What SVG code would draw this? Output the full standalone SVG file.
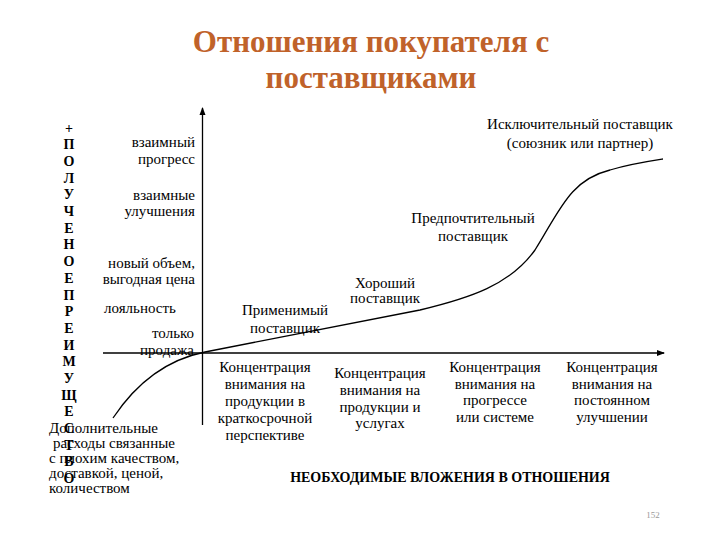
<svg xmlns="http://www.w3.org/2000/svg" width="720" height="540" viewBox="0 0 720 540">
<defs>
<marker id="arr" markerWidth="8" markerHeight="8" refX="7" refY="4" orient="auto" markerUnits="userSpaceOnUse"><path d="M0,1 L8,4 L0,7 Z" fill="#000"/></marker>
</defs>
<rect width="720" height="540" fill="#fff"/>
<g id="title">
<text font-family="'Liberation Serif', serif" font-size="31" font-weight="bold" fill="#C0622A" text-anchor="middle" x="371" y="52">Отношения покупателя с</text>
<text font-family="'Liberation Serif', serif" font-size="31" font-weight="bold" fill="#C0622A" text-anchor="middle" x="371" y="88">поставщиками</text>
</g>
<g id="connectors">
<line fill="none" stroke="#000" stroke-width="1.3" x1="202.5" y1="425" x2="202.5" y2="108" marker-end="url(#arr)"/>
<line fill="none" stroke="#000" stroke-width="1.3" x1="103" y1="353" x2="664" y2="353" marker-end="url(#arr)"/>
<path fill="none" stroke="#000" stroke-width="1.3" d="M113,418 C135,385 165,360 205,352 L420,310 C470,298 510,285 535,250 C560,210 570,180 610,170 C630,164 650,161 663,159"/>
</g>
<g id="y-axis-label">
<text font-family="'Liberation Serif', serif" font-size="14" font-weight="bold" text-anchor="middle" x="69" y="133">+</text>
<text font-family="'Liberation Serif', serif" font-size="14" font-weight="bold" text-anchor="middle" x="69" y="149">П</text>
<text font-family="'Liberation Serif', serif" font-size="14" font-weight="bold" text-anchor="middle" x="69" y="166">О</text>
<text font-family="'Liberation Serif', serif" font-size="14" font-weight="bold" text-anchor="middle" x="69" y="183">Л</text>
<text font-family="'Liberation Serif', serif" font-size="14" font-weight="bold" text-anchor="middle" x="69" y="199">У</text>
<text font-family="'Liberation Serif', serif" font-size="14" font-weight="bold" text-anchor="middle" x="69" y="216">Ч</text>
<text font-family="'Liberation Serif', serif" font-size="14" font-weight="bold" text-anchor="middle" x="69" y="233">Е</text>
<text font-family="'Liberation Serif', serif" font-size="14" font-weight="bold" text-anchor="middle" x="69" y="249">Н</text>
<text font-family="'Liberation Serif', serif" font-size="14" font-weight="bold" text-anchor="middle" x="69" y="266">О</text>
<text font-family="'Liberation Serif', serif" font-size="14" font-weight="bold" text-anchor="middle" x="69" y="283">Е</text>
<text font-family="'Liberation Serif', serif" font-size="14" font-weight="bold" text-anchor="middle" x="69" y="300">П</text>
<text font-family="'Liberation Serif', serif" font-size="14" font-weight="bold" text-anchor="middle" x="69" y="316">Р</text>
<text font-family="'Liberation Serif', serif" font-size="14" font-weight="bold" text-anchor="middle" x="69" y="333">Е</text>
<text font-family="'Liberation Serif', serif" font-size="14" font-weight="bold" text-anchor="middle" x="69" y="350">И</text>
<text font-family="'Liberation Serif', serif" font-size="14" font-weight="bold" text-anchor="middle" x="69" y="366">М</text>
<text font-family="'Liberation Serif', serif" font-size="14" font-weight="bold" text-anchor="middle" x="69" y="383">У</text>
<text font-family="'Liberation Serif', serif" font-size="14" font-weight="bold" text-anchor="middle" x="69" y="400">Щ</text>
<text font-family="'Liberation Serif', serif" font-size="14" font-weight="bold" text-anchor="middle" x="69" y="416">Е</text>
<text font-family="'Liberation Serif', serif" font-size="14" font-weight="bold" text-anchor="middle" x="69" y="433">С</text>
<text font-family="'Liberation Serif', serif" font-size="14" font-weight="bold" text-anchor="middle" x="69" y="450">Т</text>
<text font-family="'Liberation Serif', serif" font-size="14" font-weight="bold" text-anchor="middle" x="69" y="466">В</text>
<text font-family="'Liberation Serif', serif" font-size="14" font-weight="bold" text-anchor="middle" x="69" y="483">О</text>
</g>
<g id="benefits">
<text font-family="'Liberation Serif', serif" font-size="15" text-anchor="end" x="195" y="147">взаимный</text>
<text font-family="'Liberation Serif', serif" font-size="15" text-anchor="end" x="195" y="164">прогресс</text>
<text font-family="'Liberation Serif', serif" font-size="15" text-anchor="end" x="195" y="200">взаимные</text>
<text font-family="'Liberation Serif', serif" font-size="15" text-anchor="end" x="195" y="216">улучшения</text>
<text font-family="'Liberation Serif', serif" font-size="15" text-anchor="end" x="195" y="268">новый объем,</text>
<text font-family="'Liberation Serif', serif" font-size="15" text-anchor="end" x="195" y="284">выгодная цена</text>
<text font-family="'Liberation Serif', serif" font-size="15" x="104" y="313">лояльность</text>
<text font-family="'Liberation Serif', serif" font-size="15" text-anchor="end" x="194" y="338">только</text>
<text font-family="'Liberation Serif', serif" font-size="15" text-anchor="end" x="194" y="355">продажа</text>
</g>
<g id="costs">
<text font-family="'Liberation Serif', serif" font-size="15" x="49" y="433">Дополнительные</text>
<text font-family="'Liberation Serif', serif" font-size="15" x="53" y="448">расходы связанные</text>
<text font-family="'Liberation Serif', serif" font-size="15" x="49" y="463">с плохим качеством,</text>
<text font-family="'Liberation Serif', serif" font-size="15" x="49" y="478">доставкой, ценой,</text>
<text font-family="'Liberation Serif', serif" font-size="15" x="49" y="493">количеством</text>
</g>
<g id="supplier-applicable">
<text font-family="'Liberation Serif', serif" font-size="15" text-anchor="middle" x="285" y="315">Применимый</text>
<text font-family="'Liberation Serif', serif" font-size="15" text-anchor="middle" x="285" y="333">поставщик</text>
</g>
<g id="supplier-good">
<text font-family="'Liberation Serif', serif" font-size="15" text-anchor="middle" x="385" y="288">Хороший</text>
<text font-family="'Liberation Serif', serif" font-size="15" text-anchor="middle" x="385" y="303">поставщик</text>
</g>
<g id="supplier-preferred">
<text font-family="'Liberation Serif', serif" font-size="15" text-anchor="middle" x="473" y="223">Предпочтительный</text>
<text font-family="'Liberation Serif', serif" font-size="15" text-anchor="middle" x="473" y="241">поставщик</text>
</g>
<g id="supplier-exclusive">
<text font-family="'Liberation Serif', serif" font-size="15" text-anchor="middle" x="580" y="129">Исключительный поставщик</text>
<text font-family="'Liberation Serif', serif" font-size="15" text-anchor="middle" x="580" y="148">(союзник или партнер)</text>
</g>
<g id="focus-1">
<text font-family="'Liberation Serif', serif" font-size="15" text-anchor="middle" x="265" y="372">Концентрация</text>
<text font-family="'Liberation Serif', serif" font-size="15" text-anchor="middle" x="265" y="389">внимания на</text>
<text font-family="'Liberation Serif', serif" font-size="15" text-anchor="middle" x="265" y="406">продукции в</text>
<text font-family="'Liberation Serif', serif" font-size="15" text-anchor="middle" x="265" y="423">краткосрочной</text>
<text font-family="'Liberation Serif', serif" font-size="15" text-anchor="middle" x="265" y="440">перспективе</text>
</g>
<g id="focus-2">
<text font-family="'Liberation Serif', serif" font-size="15" text-anchor="middle" x="380" y="378">Концентрация</text>
<text font-family="'Liberation Serif', serif" font-size="15" text-anchor="middle" x="380" y="395">внимания на</text>
<text font-family="'Liberation Serif', serif" font-size="15" text-anchor="middle" x="380" y="412">продукции и</text>
<text font-family="'Liberation Serif', serif" font-size="15" text-anchor="middle" x="380" y="428">услугах</text>
</g>
<g id="focus-3">
<text font-family="'Liberation Serif', serif" font-size="15" text-anchor="middle" x="495" y="372">Концентрация</text>
<text font-family="'Liberation Serif', serif" font-size="15" text-anchor="middle" x="495" y="389">внимания на</text>
<text font-family="'Liberation Serif', serif" font-size="15" text-anchor="middle" x="495" y="405">прогрессе</text>
<text font-family="'Liberation Serif', serif" font-size="15" text-anchor="middle" x="495" y="422">или системе</text>
</g>
<g id="focus-4">
<text font-family="'Liberation Serif', serif" font-size="15" text-anchor="middle" x="612" y="372">Концентрация</text>
<text font-family="'Liberation Serif', serif" font-size="15" text-anchor="middle" x="612" y="389">внимания на</text>
<text font-family="'Liberation Serif', serif" font-size="15" text-anchor="middle" x="612" y="405">постоянном</text>
<text font-family="'Liberation Serif', serif" font-size="15" text-anchor="middle" x="612" y="422">улучшении</text>
</g>
<g id="x-axis-label">
<text font-family="'Liberation Serif', serif" font-size="14" font-weight="bold" text-anchor="middle" x="450" y="482">НЕОБХОДИМЫЕ ВЛОЖЕНИЯ В ОТНОШЕНИЯ</text>
</g>
<g id="page">
<text font-family="'Liberation Serif', serif" font-size="9" fill="#999" text-anchor="middle" x="653" y="518">152</text>
</g>
</svg>
